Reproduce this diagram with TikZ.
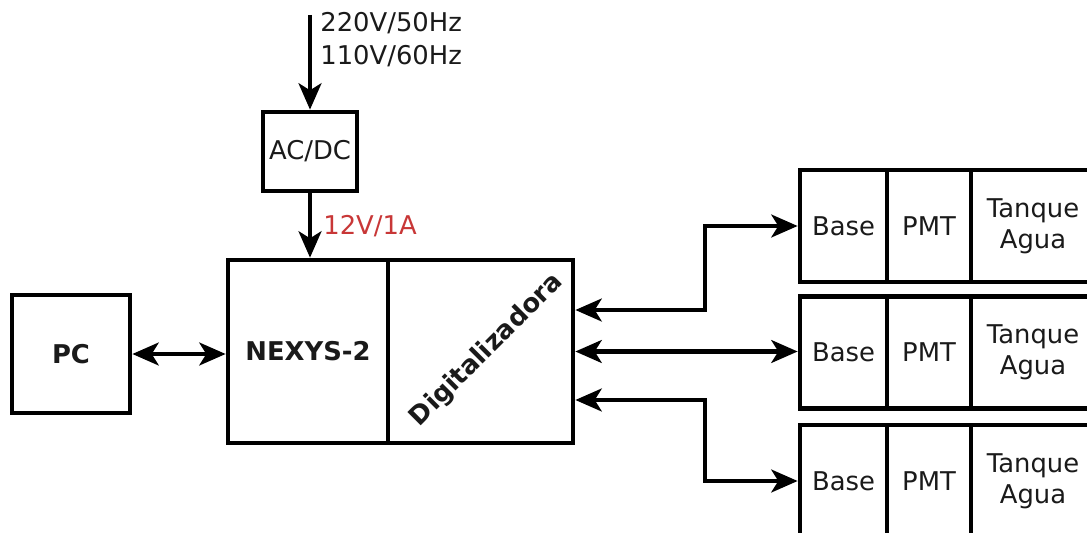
\documentclass[tikz,border=0pt]{standalone}
\usepackage{fontspec}
\setmainfont{DejaVu Sans}
\usetikzlibrary{arrows.meta}
\definecolor{rojo}{HTML}{C83737}
\definecolor{texto}{HTML}{1A1A1A}

\begin{document}
\begin{tikzpicture}[
  x=0.02cm, y=-0.02cm,
  caja/.style={draw=black, line width=2.7pt, inner sep=0pt, text=texto, align=center, font=\fontsize{14.7}{17.5}\selectfont},
  etiq/.style={inner sep=0pt, text=texto, align=left, font=\fontsize{14.7}{18.8}\selectfont},
  flecha/.style={line width=2.4pt, -{Stealth[length=15pt, width=13pt, inset=4pt]}},
  dflecha/.style={line width=2.4pt, {Stealth[length=15pt, width=13pt, inset=4pt]}-{Stealth[length=15pt, width=13pt, inset=4pt]}}
]
  \useasboundingbox (0,0) rectangle (1087,533);

  % Alimentacion
  \coordinate (red) at (310,15);
  \node[etiq, anchor=west] (tension) at (320,40) {220V/50Hz\\110V/60Hz};
  \node[caja, minimum width=1.88cm, minimum height=1.58cm] (acdc) at (310,151.5) {AC/DC};

  % Placa y PC
  \node[caja, minimum width=2.36cm, minimum height=2.36cm, font=\fontsize{14.7}{17.5}\selectfont\bfseries] (pc) at (71,354) {PC};
  \node[caja, minimum width=3.2cm, minimum height=3.66cm, font=\fontsize{14.7}{17.5}\selectfont\bfseries] (nexys) at (308,351.5) {NEXYS-2};
  \node[caja, minimum width=3.7cm, minimum height=3.66cm] (digit) at (480.5,351.5) {};
  \node[etiq, rotate=45, font=\fontsize{14.7}{17.5}\selectfont\bfseries] (digtxt) at (487,350) {Digitalizadora};

  \node[etiq, anchor=west, text=rojo] (salida) at (323,226) {12V/1A};

  % Detectores
  \node[caja, minimum width=1.74cm, minimum height=2.24cm] (base1) at (843.5,226) {Base};
  \node[caja, minimum width=1.68cm, minimum height=2.24cm] (pmt1) at (929,226) {PMT};
  \node[caja, minimum width=2.48cm, minimum height=2.24cm] (tanque1) at (1033,226) {Tanque\\Agua};

  \node[caja, minimum width=1.74cm, minimum height=2.24cm] (base2) at (843.5,352.5) {Base};
  \node[caja, minimum width=1.68cm, minimum height=2.24cm] (pmt2) at (929,352.5) {PMT};
  \node[caja, minimum width=2.48cm, minimum height=2.24cm] (tanque2) at (1033,352.5) {Tanque\\Agua};

  \node[caja, minimum width=1.74cm, minimum height=2.24cm] (base3) at (843.5,481) {Base};
  \node[caja, minimum width=1.68cm, minimum height=2.24cm] (pmt3) at (929,481) {PMT};
  \node[caja, minimum width=2.48cm, minimum height=2.24cm] (tanque3) at (1033,481) {Tanque\\Agua};

  % Conexiones
  \draw[flecha] (red) -- (acdc.north);
  \draw[flecha] (acdc.south) -- (acdc.south |- nexys.north);
  \draw[dflecha] (pc.east) -- (pc.east -| nexys.west);
  \draw[dflecha] ([yshift=0.83cm]digit.east) -- ++(130,0) |- (base1.west);
  \draw[dflecha] (digit.east) -- (digit.east -| base2.west);
  \draw[dflecha] ([yshift=-0.97cm]digit.east) -- ++(130,0) |- (base3.west);
\end{tikzpicture}
\end{document}
